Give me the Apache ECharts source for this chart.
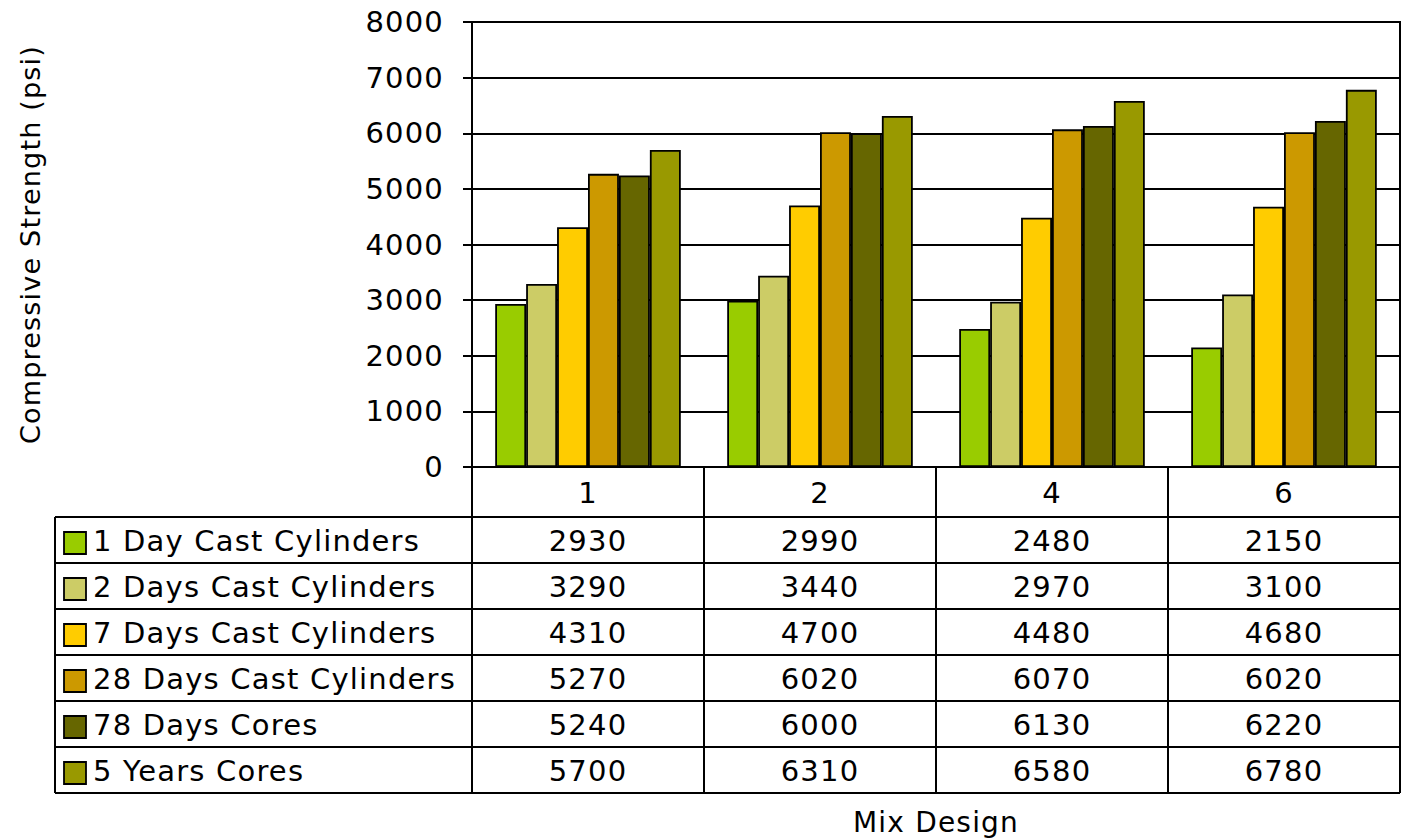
<!DOCTYPE html>
<html>
<head>
<meta charset="utf-8">
<script src="https://cdn.jsdelivr.net/npm/echarts@6/dist/echarts.min.js"></script>
<style>
  html, body { margin: 0; padding: 0; background: #fff; }
  #chart { width: 1408px; height: 840px; }
  /* Verdana-like open tracking for all chart text */
  #chart svg text { letter-spacing: 1.2px; }
</style>
</head>
<body>
<div id="chart"></div>
<script>
// Compressive strength by mix design and test age
const mixDesigns = ['1', '2', '4', '6'];
const seriesNames = [
  '1 Day Cast Cylinders',
  '2 Days Cast Cylinders',
  '7 Days Cast Cylinders',
  '28 Days Cast Cylinders',
  '78 Days Cores',
  '5 Years Cores'
];
const day1Cast = [2930, 2990, 2480, 2150];
const days2Cast = [3290, 3440, 2970, 3100];
const days7Cast = [4310, 4700, 4480, 4680];
const days28Cast = [5270, 6020, 6070, 6020];
const days78Cores = [5240, 6000, 6130, 6220];
const years5Cores = [5700, 6310, 6580, 6780];
const seriesValues = [day1Cast, days2Cast, days7Cast, days28Cast, days78Cores, years5Cores];
const seriesColors = ['#99CC00', '#CCCC66', '#FFCC00', '#CC9900', '#666600', '#999900'];
const yMin = 0, yMax = 8000, yStep = 1000;

const FONT = '"DejaVu Sans", Verdana, sans-serif';
const FS = 29;
const HEADER_H = 50;   // category-label row of the data table
const ROW_H = 46;      // each series row of the data table
const TABLE_LEFT = 55; // left edge of the series-name column
const TABLE_H = HEADER_H + ROW_H * seriesNames.length;

const chart = echarts.init(document.getElementById('chart'), null, { renderer: 'svg' });

const option = {
  animation: false,
  backgroundColor: '#fff',
  textStyle: { fontFamily: FONT, color: '#000' },
  grid: {
    left: 472, right: 8, top: 22, bottom: 373,
    outerBoundsMode: 'none',
    containLabel: false,
    show: true, borderColor: '#000', borderWidth: 2, backgroundColor: 'transparent'
  },
  xAxis: {
    type: 'category',
    data: mixDesigns,
    name: 'Mix Design',
    nameLocation: 'middle',
    nameGap: 341,
    nameTextStyle: { fontFamily: FONT, fontSize: 28, color: '#000' },
    axisLine: { lineStyle: { color: '#000', width: 2 } },
    axisTick: { show: true, length: TABLE_H, lineStyle: { color: '#000', width: 2 } },
    axisLabel: { fontFamily: FONT, fontSize: FS, color: '#000', margin: 11 }
  },
  yAxis: {
    type: 'value',
    min: yMin, max: yMax, interval: yStep,
    name: 'Compressive Strength (psi)',
    nameLocation: 'middle',
    nameRotate: 90,
    nameGap: 428,
    nameTextStyle: { fontFamily: FONT, fontSize: 27, color: '#000' },
    axisLine: { show: true, lineStyle: { color: '#000', width: 2 } },
    axisTick: { show: true, length: 9, lineStyle: { color: '#000', width: 2 } },
    axisLabel: {
      fontFamily: FONT, fontSize: FS, color: '#000', margin: 28,
      formatter: (v) => String(v)
    },
    splitLine: { show: true, lineStyle: { color: '#000', width: 2 } }
  },
  series: seriesNames.map((name, i) => ({
    name,
    type: 'bar',
    data: seriesValues[i],
    barGap: '0%',
    barCategoryGap: '20%',
    itemStyle: { color: seriesColors[i], borderColor: '#000', borderWidth: 1.8 }
  }))
};

chart.setOption(option);

// Data table under the plot, positioned from the axes' own scales
function buildTable() {
  const centers = mixDesigns.map((_, i) => chart.convertToPixel({ xAxisIndex: 0 }, i));
  const band = centers.length > 1 ? centers[1] - centers[0] : 0;
  const rightEdge = centers[centers.length - 1] + band / 2;
  const axisY = chart.convertToPixel({ yAxisIndex: 0 }, yMin);
  const rowsTop = axisY + HEADER_H;
  const els = [];

  for (let k = 0; k <= seriesNames.length; k++) {
    const y = rowsTop + k * ROW_H;
    els.push({
      type: 'line', silent: true,
      shape: { x1: TABLE_LEFT, y1: y, x2: rightEdge, y2: y },
      style: { stroke: '#000', lineWidth: 2 }
    });
  }
  els.push({
    type: 'line', silent: true,
    shape: { x1: TABLE_LEFT, y1: rowsTop, x2: TABLE_LEFT, y2: rowsTop + ROW_H * seriesNames.length },
    style: { stroke: '#000', lineWidth: 2 }
  });

  seriesNames.forEach((name, r) => {
    const cy = rowsTop + r * ROW_H + ROW_H / 2;
    els.push({
      type: 'rect', silent: true,
      shape: { x: TABLE_LEFT + 9, y: cy - 8, width: 22, height: 22 },
      style: { fill: seriesColors[r], stroke: '#000', lineWidth: 1.8 }
    });
    els.push({
      type: 'text', silent: true,
      x: TABLE_LEFT + 38, y: cy + 1,
      style: { text: name, font: FS + 'px ' + FONT, fill: '#000', textAlign: 'left', textVerticalAlign: 'middle' }
    });
    seriesValues[r].forEach((v, c) => {
      els.push({
        type: 'text', silent: true,
        x: centers[c], y: cy + 1,
        style: { text: String(v), font: FS + 'px ' + FONT, fill: '#000', textAlign: 'center', textVerticalAlign: 'middle' }
      });
    });
  });

  chart.setOption({ graphic: { elements: els } });
}

buildTable();
</script>
</body>
</html>
